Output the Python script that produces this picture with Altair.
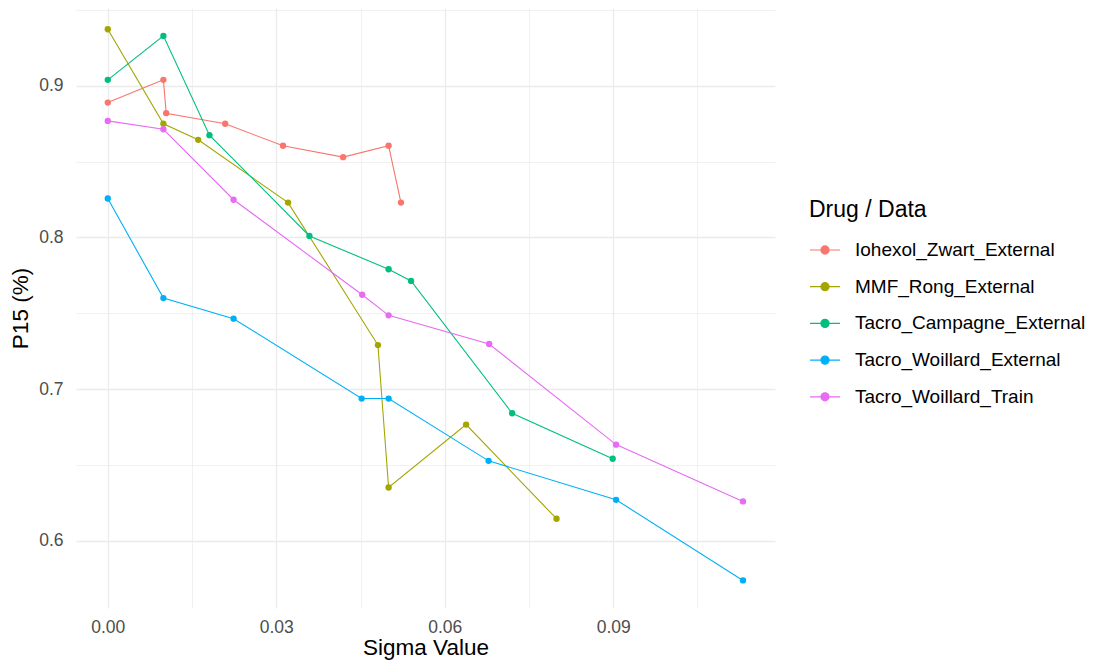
import altair as alt
import pandas as pd

series = ["Iohexol_Zwart_External", "MMF_Rong_External", "Tacro_Campagne_External",
          "Tacro_Woillard_External", "Tacro_Woillard_Train"]
colors = ["#F8766D", "#A3A500", "#00BF7D", "#00B0F6", "#E76BF3"]

iohexol_sigma = [0.0, 0.0099, 0.0104, 0.0209, 0.0312, 0.0419, 0.0500, 0.0522]
iohexol_p15 = [0.889, 0.904, 0.882, 0.875, 0.8605, 0.853, 0.8605, 0.823]

mmf_sigma = [0.0, 0.0099, 0.0161, 0.0321, 0.0481, 0.0500, 0.0638, 0.0799]
mmf_p15 = [0.9374, 0.875, 0.8644, 0.823, 0.729, 0.635, 0.6765, 0.6144]

campagne_sigma = [0.0, 0.0099, 0.0181, 0.0359, 0.0500, 0.0540, 0.0720, 0.0899]
campagne_p15 = [0.904, 0.933, 0.8675, 0.801, 0.779, 0.7713, 0.684, 0.654]

woillard_ext_sigma = [0.0, 0.0099, 0.0224, 0.0452, 0.0500, 0.0678, 0.0905, 0.1131]
woillard_ext_p15 = [0.8257, 0.760, 0.7464, 0.6937, 0.6937, 0.6526, 0.6269, 0.5737]

woillard_train_sigma = [0.0, 0.0099, 0.0224, 0.0453, 0.0500, 0.0679, 0.0905, 0.1131]
woillard_train_p15 = [0.8769, 0.8714, 0.8249, 0.7622, 0.7486, 0.7297, 0.6633, 0.6258]

all_sigma = [iohexol_sigma, mmf_sigma, campagne_sigma, woillard_ext_sigma, woillard_train_sigma]
all_p15 = [iohexol_p15, mmf_p15, campagne_p15, woillard_ext_p15, woillard_train_p15]

x_ticks = [0.0, 0.015, 0.03, 0.045, 0.06, 0.075, 0.09, 0.105]
y_ticks = [0.6, 0.65, 0.7, 0.75, 0.8, 0.85, 0.9, 0.95]

rows = []
for name, xs, ys in zip(series, all_sigma, all_p15):
    for xv, yv in zip(xs, ys):
        rows.append({"series": name, "sigma": xv, "p15": yv})
df = pd.DataFrame(rows)

FONT = "Liberation Sans"

x_axis = alt.Axis(
    values=x_ticks,
    labelExpr="round(datum.value*1000) % 30 == 0 ? format(datum.value, '.2f') : ''",
    gridWidth={"condition": {"test": "round(datum.value*1000) % 30 == 0", "value": 1.3}, "value": 0.7},
    gridColor="#EBEBEB",
    domain=False,
    ticks=False,
    labelPadding=10,
    labelFontSize=17.5,
    labelColor="#4D4D4D",
    labelFont=FONT,
    title="Sigma Value",
    titleFontSize=22.5,
    titleFont=FONT,
    titleFontWeight="normal",
    titleColor="#000000",
    titlePadding=1,
)
y_axis = alt.Axis(
    values=y_ticks,
    labelExpr="round(datum.value*100) % 10 == 0 ? format(datum.value, '.1f') : ''",
    gridWidth={"condition": {"test": "round(datum.value*100) % 10 == 0", "value": 1.3}, "value": 0.7},
    gridColor="#EBEBEB",
    domain=False,
    ticks=False,
    labelPadding=13,
    labelFontSize=17.5,
    labelColor="#4D4D4D",
    labelFont=FONT,
    title="P15 (%)",
    titleFontSize=22.5,
    titleFont=FONT,
    titleFontWeight="normal",
    titleColor="#000000",
    titlePadding=6,
)

legend = alt.Legend(
    title="Drug / Data",
    orient="none",
    legendX=733,
    legendY=191,
    titleFont=FONT,
    titleFontSize=23,
    titleFontWeight="normal",
    titleColor="#000000",
    titlePadding=12,
    titleLimit=400,
    labelFont=FONT,
    labelFontSize=19,
    labelColor="#000000",
    labelOffset=14,
    labelLimit=400,
    symbolType="M-1,0L1,0M-0.27,0A0.27,0.27 0 1,0 0.27,0A0.27,0.27 0 1,0 -0.27,0Z",
    symbolSize=900,
    symbolStrokeWidth=1.2,
    rowPadding=10.7,
)

base = alt.Chart(df).encode(
    x=alt.X("sigma:Q", scale=alt.Scale(domain=[-0.00566, 0.1188], nice=False, zero=False), axis=x_axis),
    y=alt.Y("p15:Q", scale=alt.Scale(domain=[0.5555, 0.9514], nice=False, zero=False), axis=y_axis),
    color=alt.Color("series:N", scale=alt.Scale(domain=series, range=colors), legend=legend),
    order=alt.Order("sigma:Q"),
)

lines = base.mark_line(strokeWidth=1.1)
points = base.mark_point(filled=True, size=40, opacity=1)

chart = alt.layer(lines, points).properties(
    width=699,
    height=600,
    autosize="none",
    padding={"left": 68, "top": 0, "right": 310, "bottom": 53},
).configure_view(stroke=None)

chart.save("out.html", embed_options={"renderer": "svg", "actions": False})
